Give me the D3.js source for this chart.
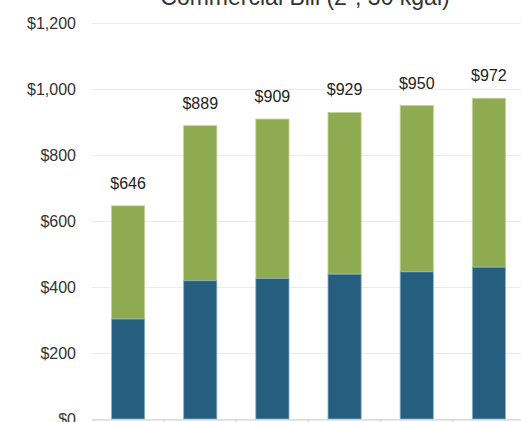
<!DOCTYPE html>
<html>
<head>
<meta charset="utf-8">
<script src="https://cdn.jsdelivr.net/npm/d3@7"></script>
<style>
  body { margin: 0; background: #fff; }
  svg { display: block; font-family: 'Liberation Sans', Arial, sans-serif; }
</style>
</head>
<body>
<div id="chart"></div>
<script>
const categories = ['A', 'B', 'C', 'D', 'E', 'F']
const baseCharge = [303, 419, 426, 439, 446, 460]
const totals = [646, 889, 909, 929, 950, 972]
const yTicks = [0, 200, 400, 600, 800, 1000, 1200]

const width = 521
const height = 422
const margin = { top: 23, right: -4, bottom: 3, left: 92 }

const svg = d3.select('#chart')
  .append('svg')
  .attr('width', width)
  .attr('height', height)

const x = d3.scaleBand()
  .domain(categories)
  .range([margin.left, width - margin.right])
  .paddingInner(0.54)
  .paddingOuter(0.27)

const y = d3.scaleLinear()
  .domain([0, 1200])
  .range([height - margin.bottom, margin.top])

// gridlines + labels
const yAxis = svg.append('g')
  .attr('transform', `translate(${margin.left},0)`)
  .call(d3.axisLeft(y)
    .tickValues(yTicks)
    .tickSize(-(width - margin.left - margin.right))
    .tickPadding(16)
    .tickFormat((d) => '$' + d3.format(',')(d)))
yAxis.select('.domain').remove()
yAxis.selectAll('.tick line').attr('stroke', '#ececec')
yAxis.selectAll('.tick text')
  .attr('fill', '#333')
  .attr('font-size', '16px')

// stacked bars
const series = categories.map((c, i) => ({
  cat: c,
  base: baseCharge[i],
  total: totals[i]
}))

const bars = svg.append('g')
  .selectAll('g')
  .data(series)
  .enter()
  .append('g')

bars.append('rect')
  .attr('x', (d) => x(d.cat))
  .attr('width', x.bandwidth())
  .attr('y', (d) => y(d.total))
  .attr('height', (d) => y(d.base) - y(d.total))
  .attr('fill', '#8fab51')
  .attr('stroke', '#c3d39e')
  .attr('stroke-width', 0.8)

bars.append('rect')
  .attr('x', (d) => x(d.cat))
  .attr('width', x.bandwidth())
  .attr('y', (d) => y(d.base))
  .attr('height', (d) => y(0) - y(d.base))
  .attr('fill', '#255e7f')
  .attr('stroke', '#8fb0c4')
  .attr('stroke-width', 0.8)

// total labels
bars.append('text')
  .attr('x', (d) => x(d.cat) + x.bandwidth() / 2)
  .attr('y', (d) => y(d.total) - 17)
  .attr('text-anchor', 'middle')
  .attr('font-size', '16px')
  .attr('fill', '#222')
  .text((d) => '$' + d.total)

// bottom axis line with tick marks at band boundaries
const baseY = y(0) + 1
svg.append('line')
  .attr('x1', margin.left)
  .attr('x2', width)
  .attr('y1', baseY)
  .attr('y2', baseY)
  .attr('stroke', '#cfcfcf')
const step = x.step()
svg.append('g')
  .selectAll('line')
  .data(categories.slice(1))
  .enter()
  .append('line')
  .attr('x1', (d) => x(d) - step * x.paddingInner() / 2)
  .attr('x2', (d) => x(d) - step * x.paddingInner() / 2)
  .attr('y1', baseY)
  .attr('y2', baseY + 5)
  .attr('stroke', '#cfcfcf')

// title (cut off at the top)
svg.append('text')
  .attr('x', 305)
  .attr('y', 5)
  .attr('text-anchor', 'middle')
  .attr('font-size', '23px')
  .attr('fill', '#333')
  .text('Commercial Bill (2", 30 kgal)')
</script>
</body>
</html>
